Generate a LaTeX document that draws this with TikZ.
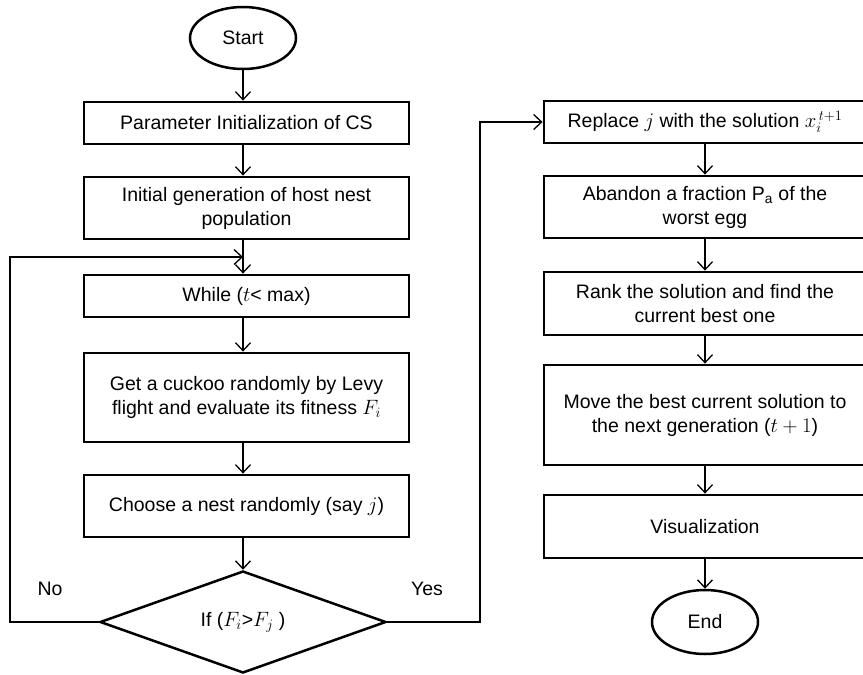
\documentclass[tikz,border=0pt]{standalone}
\usepackage{fontspec}
\setmainfont{Liberation Sans}
\usetikzlibrary{shapes.geometric,arrows.meta,calc}
\begin{document}
\begin{tikzpicture}[x=1pt,y=-1pt,
  every node/.style={font=\fontsize{19.5}{24}\selectfont, align=center, inner sep=0pt},
  stepbox/.style={draw, line width=2.8pt, rectangle},
  lbox/.style={stepbox, minimum width=325pt},
  rbox/.style={stepbox, minimum width=322pt},
  term/.style={draw, ellipse, line width=2.5pt, minimum width=106pt, minimum height=62pt},
  decide/.style={draw, diamond, line width=2.5pt, aspect=2.8, minimum width=286pt, minimum height=102pt},
  conn/.style={line width=1.3pt, -{Straight Barb[length=8pt,width=15pt,line width=1.3pt]}},
  plain/.style={line width=1.3pt}
]
\useasboundingbox (0,0) rectangle (863,675);

% left column
\node[term] (start) at (243,38) {Start};
\node[lbox, minimum height=42pt] (p1) at (246.5,123) {Parameter Initialization of CS};
\node[lbox, minimum height=62pt] (p2) at (246.5,208) {Initial generation of host nest\\population};
\node[lbox, minimum height=42pt] (p3) at (246.5,296) {While ($t$< max)};
\node[lbox, minimum height=89pt] (p4) at (246.5,397.5) {Get a cuckoo randomly by Levy\\flight and evaluate its fitness $F_i$};
\node[lbox, minimum height=62pt] (p5) at (246.5,506) {Choose a nest randomly (say $j$)};
\node[decide] (dia) at (243,622) {If ($F_i$>$F_j$ )};

% right column
\node[rbox, minimum height=42pt] (r1) at (705,122) {Replace $j$ with the solution $x_{i}^{\,t+1}$};
\node[rbox, minimum height=62pt] (r2) at (705,207) {Abandon a fraction $\mathrm{P_a}$ of the\\worst egg};
\node[rbox, minimum height=63pt] (r3) at (705,303.5) {Rank the solution and find the\\current best one};
\node[rbox, minimum height=100pt] (r4) at (705,415) {Move the best current solution to\\the next generation ($t+1$)};
\node[rbox, minimum height=63pt] (r5) at (705,526.5) {Visualization};
\node[term, minimum height=64pt] (end) at (705,622) {End};

% labels
\node (no) at (50,589) {No};
\node (yes) at (427,589) {Yes};

% helper coordinates
\coordinate (lp) at (243,257);
\coordinate (nl) at (10,622);
\coordinate (yc) at (480,622);

% connectors
\draw[conn] (start.south) -- (start.south |- p1.north);
\draw[conn] (p1.south -| start) -- (p2.north -| start);
\draw[plain] (p2.south -| start) -- (lp);
\draw[conn] (lp) -- (p3.north -| lp);
\draw[conn] (p3.south -| start) -- (p4.north -| start);
\draw[conn] (p4.south -| start) -- (p5.north -| start);
\draw[conn] (p5.south -| dia) -- (dia.north);
\draw[conn] (dia.west) -- (nl) |- (lp);
\draw[conn] (dia.east) -- (yc) |- (r1.west);

\draw[conn] (r1.south) -- (r2.north);
\draw[conn] (r2.south) -- (r3.north);
\draw[conn] (r3.south) -- (r4.north);
\draw[conn] (r4.south) -- (r5.north);
\draw[conn] (r5.south) -- (end.north);
\end{tikzpicture}
\end{document}
